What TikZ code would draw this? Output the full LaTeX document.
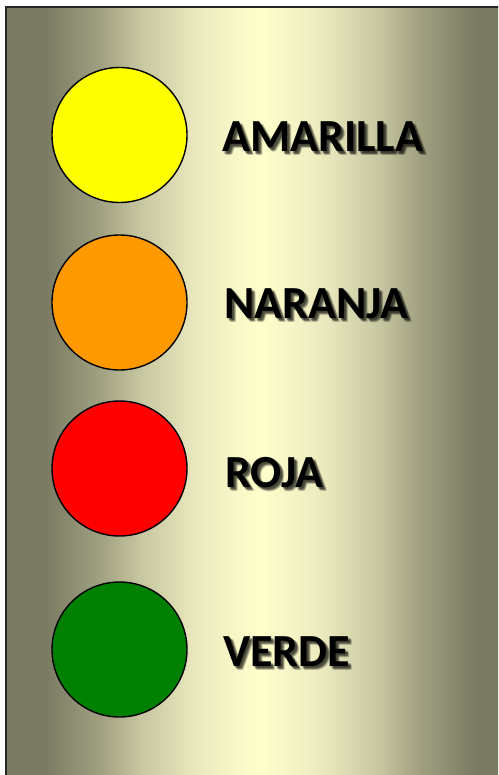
\documentclass[tikz,border=0pt]{standalone}
\usepackage{fontspec}
\setmainfont{Carlito}
\definecolor{bgedge}{HTML}{7A7A62}
\definecolor{bgone}{HTML}{A0A081}
\definecolor{bgtwo}{HTML}{C6C6A0}
\definecolor{bgthree}{HTML}{ECEBC0}
\definecolor{bgmid}{HTML}{FFFFCC}
\definecolor{cyellow}{HTML}{FFFF00}
\definecolor{corange}{HTML}{FF9900}
\definecolor{cred}{HTML}{FF0000}
\definecolor{cgreen}{HTML}{008000}
\pgfdeclarehorizontalshading{bgshade}{100bp}{color(0bp)=(bgedge); color(28.8bp)=(bgedge); color(34.25bp)=(bgone); color(38.2bp)=(bgtwo); color(44.1bp)=(bgthree); color(50bp)=(bgmid); color(55.9bp)=(bgthree); color(61.8bp)=(bgtwo); color(65.75bp)=(bgone); color(71.2bp)=(bgedge); color(100bp)=(bgedge)}
\tikzset{
  x=1pt, y=1pt,
  lamp/.style={circle, draw=black, line width=1.4pt, minimum size=135pt, inner sep=0pt},
  lbl/.style={anchor=base west, inner sep=0pt, font=\fontsize{46}{50}\selectfont\bfseries, text=black},
  shadowlbl/.style={lbl, text=black, opacity=0.13}
}
\begin{document}
\begin{tikzpicture}
\useasboundingbox (0,0) rectangle (498,-775);
\begin{scope}
\clip (0,0) rectangle (498,-775);
\shade[shading=bgshade] (6,-7) rectangle (514,-790);
\draw[color=black!85, line width=2.2pt] (6,-790) -- (6,-7) -- (514,-7);
\end{scope}
\node[lamp, fill=cyellow] (c1) at (119.5,-135) {};
\node[lamp, fill=corange] (c2) at (119.5,-302.5) {};
\node[lamp, fill=cred] (c3) at (119.5,-468.5) {};
\node[lamp, fill=cgreen] (c4) at (119.5,-649.5) {};
\foreach \t/\xx/\yy in {AMARILLA/222/-152, NARANJA/224/-318, ROJA/225/-487, VERDE/223/-666}{
  \foreach \dx/\dy in {1/-1, 2/-2, 3/-3, 4/-4, 3/-2, 2/-3, 4/-3, 3/-4, 2.5/-2.5}{
    \node[shadowlbl] at (\xx+\dx,\yy+\dy) {\t};
  }
}
\node[lbl] (t1) at (222,-152) {AMARILLA};
\node[lbl] (t2) at (224,-318) {NARANJA};
\node[lbl] (t3) at (225,-487) {ROJA};
\node[lbl] (t4) at (223,-666) {VERDE};
\end{tikzpicture}
\end{document}
